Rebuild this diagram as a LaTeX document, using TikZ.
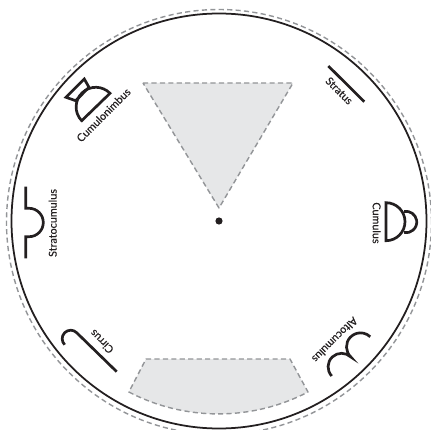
\documentclass[tikz,border=0pt]{standalone}
\usepackage{fontspec}
\setmainfont{Lato}
\newfontfamily\namefont[FakeBold=0.35]{Lato}
\definecolor{inkdark}{HTML}{231F20}
\definecolor{cutgrey}{HTML}{E6E7E8}
\definecolor{dashgrey}{HTML}{939598}
\begin{document}
\begin{tikzpicture}[
        line cap=round, line join=round,
        scale=3, line width=1.5pt, color=inkdark,
        cut line/.style={color=dashgrey, line width=1.2pt, line cap=butt, dash pattern=on 4.4pt off 2.8pt},
        cut out/.style={cut line, fill=cutgrey},
        symbol/.style={line width=2.3pt, line cap=butt, line join=miter},
        cloud name/.style={font=\namefont\fontsize{9.2}{10}\selectfont, inner sep=0pt, rotate=#1}
    ]
    \useasboundingbox (-2.19,-2.09) rectangle (2.11,2.21);
    \draw[cut line] (0,-0.01) circle[radius=2.125];
    \draw (0,0) circle[radius=2.075];
    \fill (0,0) circle[radius=0.036];
    \draw[cut out] (-0.76,1.38) -- (0.74,1.38) -- (0,0.13) -- cycle;
    \draw[cut out] (-0.73,-1.38) -- (0.71,-1.38) -- (0.89,-1.71)
        arc[start angle=-62.5, end angle=-117.5, radius=1.94] -- cycle;
    % cloud symbols
    \draw[symbol] (1.093,1.55) -- (1.453,1.193);
    \draw[symbol] (1.67,0.183) arc[start angle=90, end angle=-90, radius=0.19] -- cycle;
    \draw[symbol] (1.852,0.095) arc[start angle=100, end angle=-100, radius=0.107];
    \draw[symbol] (1.127,-1.55) arc[start angle=223, end angle=46, radius=0.135]
        arc[start angle=227, end angle=46, radius=0.14];
    \draw[symbol] (-1.023,-1.507) -- (-1.423,-1.117) arc[start angle=45, end angle=225, radius=0.085];
    \draw[symbol] (-1.933,0.343) -- (-1.933,0.127) -- (-1.899,0.127)
        arc[start angle=90, end angle=-90, radius=0.142] -- (-1.933,-0.157) -- (-1.933,-0.373);
    \draw[symbol] (-1.373,1.003) -- (-1.09,1.277) arc[start angle=44, end angle=224, radius=0.197] -- cycle;
    \draw[symbol] (-1.347,1.42) -- (-1.53,1.237) -- (-1.433,1.203) -- (-1.30,1.337) -- cycle;
    % names
    \node[cloud name=-45] (stratus) at (1.203,1.303) {Stratus};
    \node[cloud name=-90] (cumulus) at (1.577,-0.02) {Cumulus};
    \node[cloud name=225] (altocumulus) at (1.16,-1.19) {Altocumulus};
    \node[cloud name=135] (cirrus) at (-1.173,-1.207) {Cirrus};
    \node[cloud name=90] (stratocumulus) at (-1.663,-0.02) {Stratocumulus};
    \node[cloud name=45] (cumulonimbus) at (-1.155,1.06) {Cumulonimbus};
\end{tikzpicture}
\end{document}
